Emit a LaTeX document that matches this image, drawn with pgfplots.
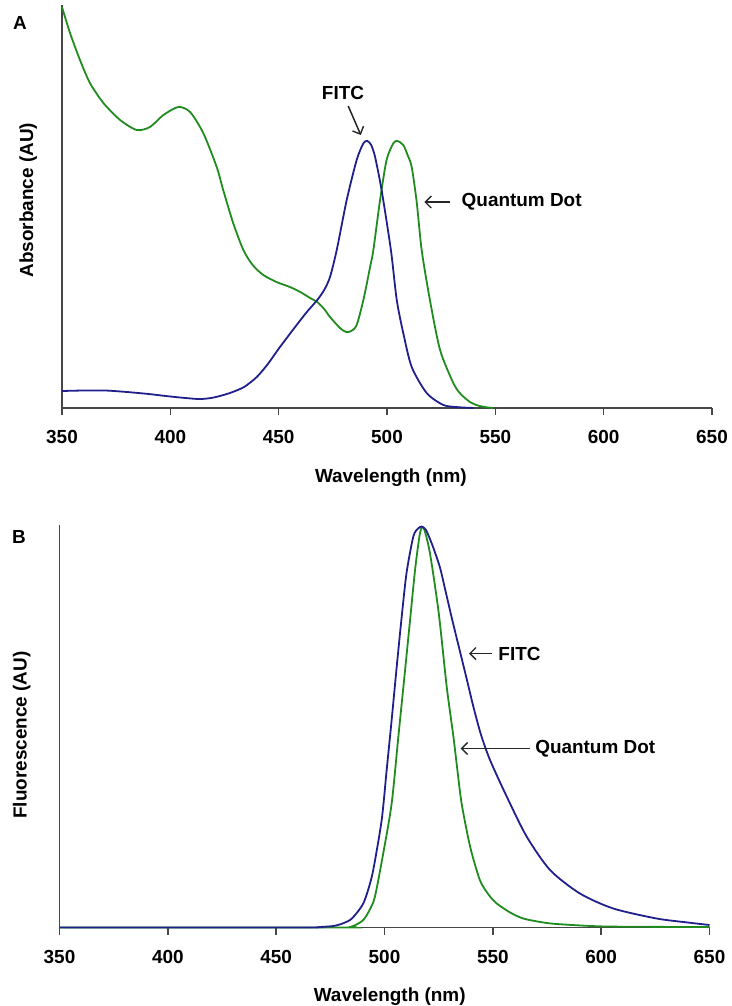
\documentclass[border=0pt]{standalone}
\usepackage{fontspec}
\setmainfont{Liberation Sans}
\usepackage{pgfplots}
\pgfplotsset{compat=1.18}
\usetikzlibrary{arrows.meta}
\definecolor{fitc}{RGB}{32,32,140}
\definecolor{qd}{RGB}{32,140,32}
\definecolor{axgray}{RGB}{70,70,70}
\newcommand{\lbl}{\fontsize{19}{22}\selectfont\bfseries}

\pgfplotstableread{
x y
350 401
353.7 375
358.3 348
362.9 325
369.1 305
376.8 288
384.5 278
390.6 281
396.8 293
403.7 301
409.1 296
415.2 275
421.4 241
424.4 218
429 185
433.7 158
438 143
442.9 133
449 126
455.2 121
460 116
464.5 110
467.8 106
471 99
473.7 91
478.3 80
481.1 76
483.5 77
486 83
489.1 108
492.2 141
493.7 158
496.8 208
499.8 248
502.9 264.7
504.8 267
507.5 263
509.5 253
511.4 241
513.7 206
516 158
519.8 108
524.5 58
530.6 25
534 14
538.3 6
542 2.5
546 0.7
549 0
}\qdabs

\pgfplotstableread{
x y
350 17
360 17.5
370 17.5
380 16
390 14
400 11.5
413 9
420 10.5
427.5 15
434 21
439.9 31
445 44
450.6 61
458.3 83
463 96
467.8 108
471 118
473.7 131
476.8 158
481.4 208
486 248
489.1 264.7
490.9 267
492.7 263
494.5 251
497.5 218
501.8 158
504.5 108
507.5 75
511.4 41
518.3 15
526 3
533 0.8
540 0
}\fitcabs

\pgfplotstableread{
x y
350 0
460 0
470 0.5
476.4 1.5
480 3.5
484.1 7.5
487 14
490.2 24
492.5 38
494.8 57.5
498.7 107.5
501 157.5
503.3 207.5
505.6 260
507.9 310
510.2 355
513.3 391
515.5 399
517.2 401
519 398
520.5 391
522.5 380
525.6 360
528 338
531 310
534.5 279
538 248
541 221
544.5 193
548.7 167.5
556.4 131
565.6 91
576.4 57.5
590.2 34
605.6 19
625.6 9
640 5
650 2.5
}\fitcfl

\pgfplotstableread{
x y
350 0
478 0
484.1 0.5
487 3
490.2 7.5
493 17
495.6 31
499.4 74
503.3 124
506.4 191
509.5 257.5
511.8 307.5
514.1 357.5
516.1 391
517.2 400
518.5 397
521 374
525 315
528.7 241
531.8 191
533.5 160
535.6 124
539.5 81
544 47.5
548 33
551.8 24
558 15
564 9
572 5.5
579.5 3.5
602.5 1
650 0.5
}\qdfl

\pgfplotsset{myax/.style={
  scale only axis, width=650bp,
  xmin=350, xmax=650, ymin=0,
  axis x line=bottom, axis y line=left,
  axis line style={axgray, line width=1.5bp, -},
  xtick={350,400,...,650}, ytick=\empty,
  tick align=outside, major tick length=7bp,
  tick style={axgray, line width=1.5bp},
  xticklabel style={font=\lbl, yshift=-12bp},
  /pgf/number format/assume math mode=true,
  /pgf/number format/1000 sep={},
  clip=false,
  every axis plot/.append style={line width=1.8bp, no marks, smooth, tension=0.45},
}}
\tikzset{ann/.style={-{Straight Barb[length=6bp,width=12bp,line width=1.4bp]}, black!85, line width=1.5bp}}

\begin{document}
\begin{tikzpicture}
\path[use as bounding box] (0,0) rectangle (732bp,-1006bp);

% Panel A
\begin{axis}[myax, height=403bp, ymax=403,
  at={(62bp,-408bp)}, anchor=south west]
\addplot[qd] table {\qdabs};
\addplot[fitc] table {\fitcabs};
\draw[ann] (axis cs:529.2,206) -- (axis cs:517.2,206);
\node[anchor=west, font=\lbl, inner sep=0pt] at (axis cs:534.4,206) {Quantum Dot};
\node[font=\lbl, inner sep=0pt] at (axis cs:479.7,315) {FITC};
\draw[ann] (axis cs:482.1,302) -- (axis cs:487.9,273);
\node[font=\lbl, inner sep=0pt] at (axis description cs:-0.0646,0.955) {A};
\node[font=\lbl, inner sep=0pt] at (axis description cs:0.506,-0.1737) {Wavelength (nm)};
\node[font=\lbl, inner sep=0pt, rotate=90] at (axis description cs:-0.052,0.516) {Absorbance (AU)};
\end{axis}

% Panel B
\begin{axis}[myax, height=402.5bp, ymax=402.5,
  at={(59.5bp,-927.5bp)}, anchor=south west]
\addplot[qd] table {\qdfl};
\addplot[fitc] table {\fitcfl};
\draw[ann] (axis cs:549.5,274) -- (axis cs:539,274);
\node[anchor=west, font=\lbl, inner sep=0pt] at (axis cs:552.5,274) {FITC};
\draw[ann] (axis cs:567.2,179) -- (axis cs:535.1,179);
\node[anchor=west, font=\lbl, inner sep=0pt] at (axis cs:569.5,179) {Quantum Dot};
\node[font=\lbl, inner sep=0pt] at (axis description cs:-0.0623,0.97) {B};
\node[font=\lbl, inner sep=0pt] at (axis description cs:0.508,-0.1727) {Wavelength (nm)};
\node[font=\lbl, inner sep=0pt, rotate=90] at (axis description cs:-0.058,0.478) {Fluorescence (AU)};
\end{axis}
\end{tikzpicture}
\end{document}
